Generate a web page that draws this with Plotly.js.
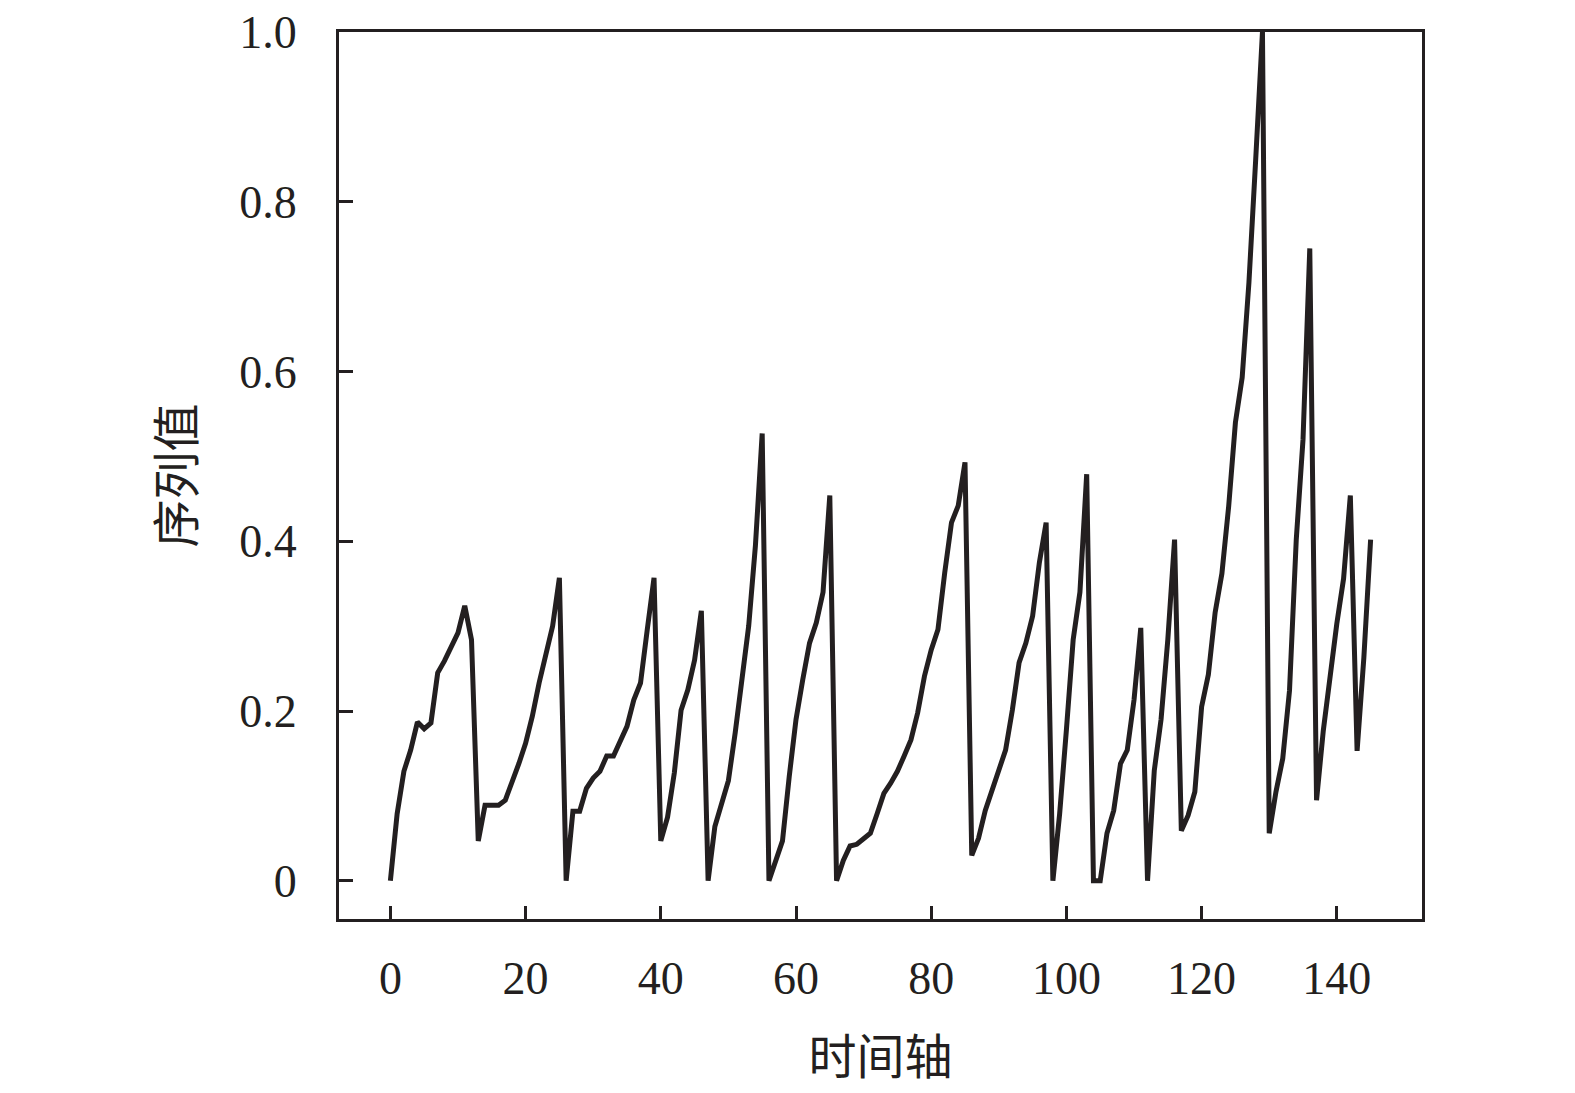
<!DOCTYPE html>
<html>
<head>
<meta charset="utf-8">
<script src="https://cdn.plot.ly/plotly-3.0.1.min.js"></script>
<style>
  html, body { margin: 0; padding: 0; background: #ffffff; }
  #chart { width: 1575px; height: 1093px; }
</style>
</head>
<body>
<div id="chart"></div>
<script>
// Time index (0..145)
const timeIndex = [
  0,1,2,3,4,5,6,7,8,9,10,11,12,13,14,15,16,17,18,19,
  20,21,22,23,24,25,26,27,28,29,30,31,32,33,34,35,36,37,38,39,
  40,41,42,43,44,45,46,47,48,49,50,51,52,53,54,55,56,57,58,59,
  60,61,62,63,64,65,66,67,68,69,70,71,72,73,74,75,76,77,78,79,
  80,81,82,83,84,85,86,87,88,89,90,91,92,93,94,95,96,97,98,99,
  100,101,102,103,104,105,106,107,108,109,110,111,112,113,114,115,116,117,118,119,
  120,121,122,123,124,125,126,127,128,129,130,131,132,133,134,135,136,137,138,139,
  140,141,142,143,144,145
];

// Series values
const seriesValues = [
  0, 0.079, 0.129, 0.154, 0.187, 0.179, 0.186, 0.245, 0.259, 0.277,
  0.292, 0.324, 0.284, 0.047, 0.089, 0.089, 0.089, 0.095, 0.115, 0.138,
  0.162, 0.194, 0.233, 0.265, 0.300, 0.357, 0, 0.082, 0.082, 0.109,
  0.121, 0.129, 0.147, 0.147, 0.164, 0.182, 0.213, 0.233, 0.296, 0.357,
  0.047, 0.075, 0.127, 0.201, 0.225, 0.260, 0.318, 0, 0.064, 0.091,
  0.118, 0.174, 0.237, 0.300, 0.395, 0.527, 0, 0.024, 0.047, 0.123,
  0.190, 0.237, 0.280, 0.304, 0.340, 0.454, 0, 0.024, 0.041, 0.043,
  0.050, 0.056, 0.079, 0.103, 0.115, 0.129, 0.147, 0.166, 0.198, 0.241,
  0.272, 0.296, 0.363, 0.422, 0.442, 0.493, 0.030, 0.050, 0.083, 0.107,
  0.127, 0.154, 0.201, 0.257, 0.280, 0.312, 0.375, 0.422, 0, 0.079,
  0.178, 0.284, 0.340, 0.479, 0, 0, 0.056, 0.083, 0.138, 0.154,
  0.213, 0.298, 0, 0.130, 0.190, 0.284, 0.402, 0.059, 0.077, 0.105,
  0.205, 0.243, 0.316, 0.362, 0.441, 0.540, 0.593, 0.705, 0.850, 1.0,
  0.056, 0.105, 0.144, 0.224, 0.402, 0.520, 0.745, 0.095, 0.177, 0.243,
  0.303, 0.356, 0.454, 0.153, 0.263, 0.402
];

const xTickValues = [0, 20, 40, 60, 80, 100, 120, 140];
const xTickLabels = ['0', '20', '40', '60', '80', '100', '120', '140'];
const yTickValues = [0, 0.2, 0.4, 0.6, 0.8, 1.0];
const yTickLabels = ['0', '0.2', '0.4', '0.6', '0.8', '1.0'];

const xTitle = '时间轴';
const yTitle = '序列值';

const ink = '#231f20';
const numFont = { family: '"Liberation Serif", "Times New Roman", serif', size: 46, color: ink };
const cjkFont = { family: '"Noto Sans CJK SC", sans-serif', size: 48, color: ink };

const trace = {
  x: timeIndex,
  y: seriesValues,
  type: 'scatter',
  mode: 'lines',
  line: { color: ink, width: 5 },
  hoverinfo: 'skip'
};

const layout = {
  width: 1575,
  height: 1093,
  margin: { l: 339, r: 153, t: 32, b: 174, pad: 0 },
  paper_bgcolor: '#ffffff',
  plot_bgcolor: '#ffffff',
  showlegend: false,
  xaxis: {
    range: [-7.6, 152.6],
    tickmode: 'array',
    tickvals: xTickValues,
    ticktext: xTickLabels,
    ticks: 'inside',
    ticklen: 13,
    tickwidth: 3,
    tickcolor: ink,
    showline: true,
    linecolor: ink,
    linewidth: 3,
    mirror: true,
    showgrid: false,
    zeroline: false,
    tickfont: numFont,
    ticklabelstandoff: 17,
    title: { text: xTitle, font: cjkFont, standoff: 38 },
    automargin: false
  },
  yaxis: {
    range: [-0.045, 1.0],
    tickmode: 'array',
    tickvals: yTickValues,
    ticktext: yTickLabels,
    ticks: 'inside',
    ticklen: 14,
    tickwidth: 3,
    tickcolor: ink,
    showline: true,
    linecolor: ink,
    linewidth: 3,
    mirror: true,
    showgrid: false,
    zeroline: false,
    tickfont: numFont,
    ticklabelstandoff: 30,
    title: { text: yTitle, font: cjkFont, standoff: 30 },
    automargin: false
  }
};

Plotly.newPlot('chart', [trace], layout, { staticPlot: true, displayModeBar: false });
</script>
</body>
</html>
